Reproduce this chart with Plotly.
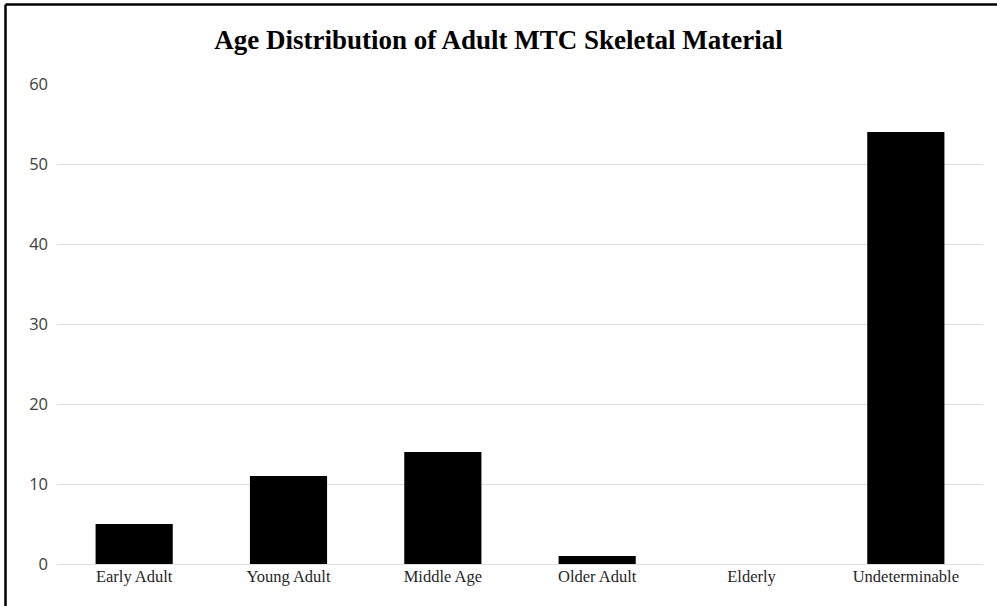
import plotly.graph_objects as go

categories = ["Early Adult", "Young Adult", "Middle Age", "Older Adult", "Elderly", "Undeterminable"]
counts = [5, 11, 14, 1, 0, 54]
y_ticks = [0, 10, 20, 30, 40, 50, 60]

W, H = 997, 606
L, R, T, B = 57, 14, 84, 42
pw, ph = W - L - R, H - T - B

fig = go.Figure(go.Bar(x=categories, y=counts, marker=dict(color="black", line=dict(width=0)),
                       hoverinfo="x+y"))

fig.update_layout(
    width=W, height=H,
    margin=dict(l=L, r=R, t=T, b=B),
    paper_bgcolor="white", plot_bgcolor="white",
    bargap=0.5,
    showlegend=False,
    title=dict(text="<b>Age Distribution of Adult MTC Skeletal Material</b>",
               x=0.5, xanchor="center", y=1 - 40 / H, yanchor="middle",
               font=dict(family="Liberation Serif", size=27, color="black")),
    xaxis=dict(showline=False, ticks="", tickfont=dict(family="Liberation Serif", size=16.5, color="#262626")),
    yaxis=dict(range=[0, 60], tickvals=y_ticks, showgrid=True, gridcolor="#DCE0E6", gridwidth=1.3,
               zeroline=True, zerolinecolor="#DCE0E6", zerolinewidth=1.3, showline=False, ticks="",
               ticklen=0, tickfont=dict(family="Open Sans", size=16.5, color="#404040")),
)

fig.update_yaxes(ticklabelstandoff=8)

# outer frame: only left and top edges are visible in the picture
x_left = (5.5 - L) / pw
y_top = (H - B - 4.5) / ph
fig.add_shape(type="line", xref="paper", yref="paper", x0=x_left, x1=x_left, y0=-(B + 10) / ph, y1=y_top,
              line=dict(color="black", width=2.5), layer="above")
fig.add_shape(type="line", xref="paper", yref="paper", x0=x_left, x1=(W + 10 - L) / pw, y0=y_top, y1=y_top,
              line=dict(color="black", width=2.5), layer="above")

fig.write_html("out.html")
